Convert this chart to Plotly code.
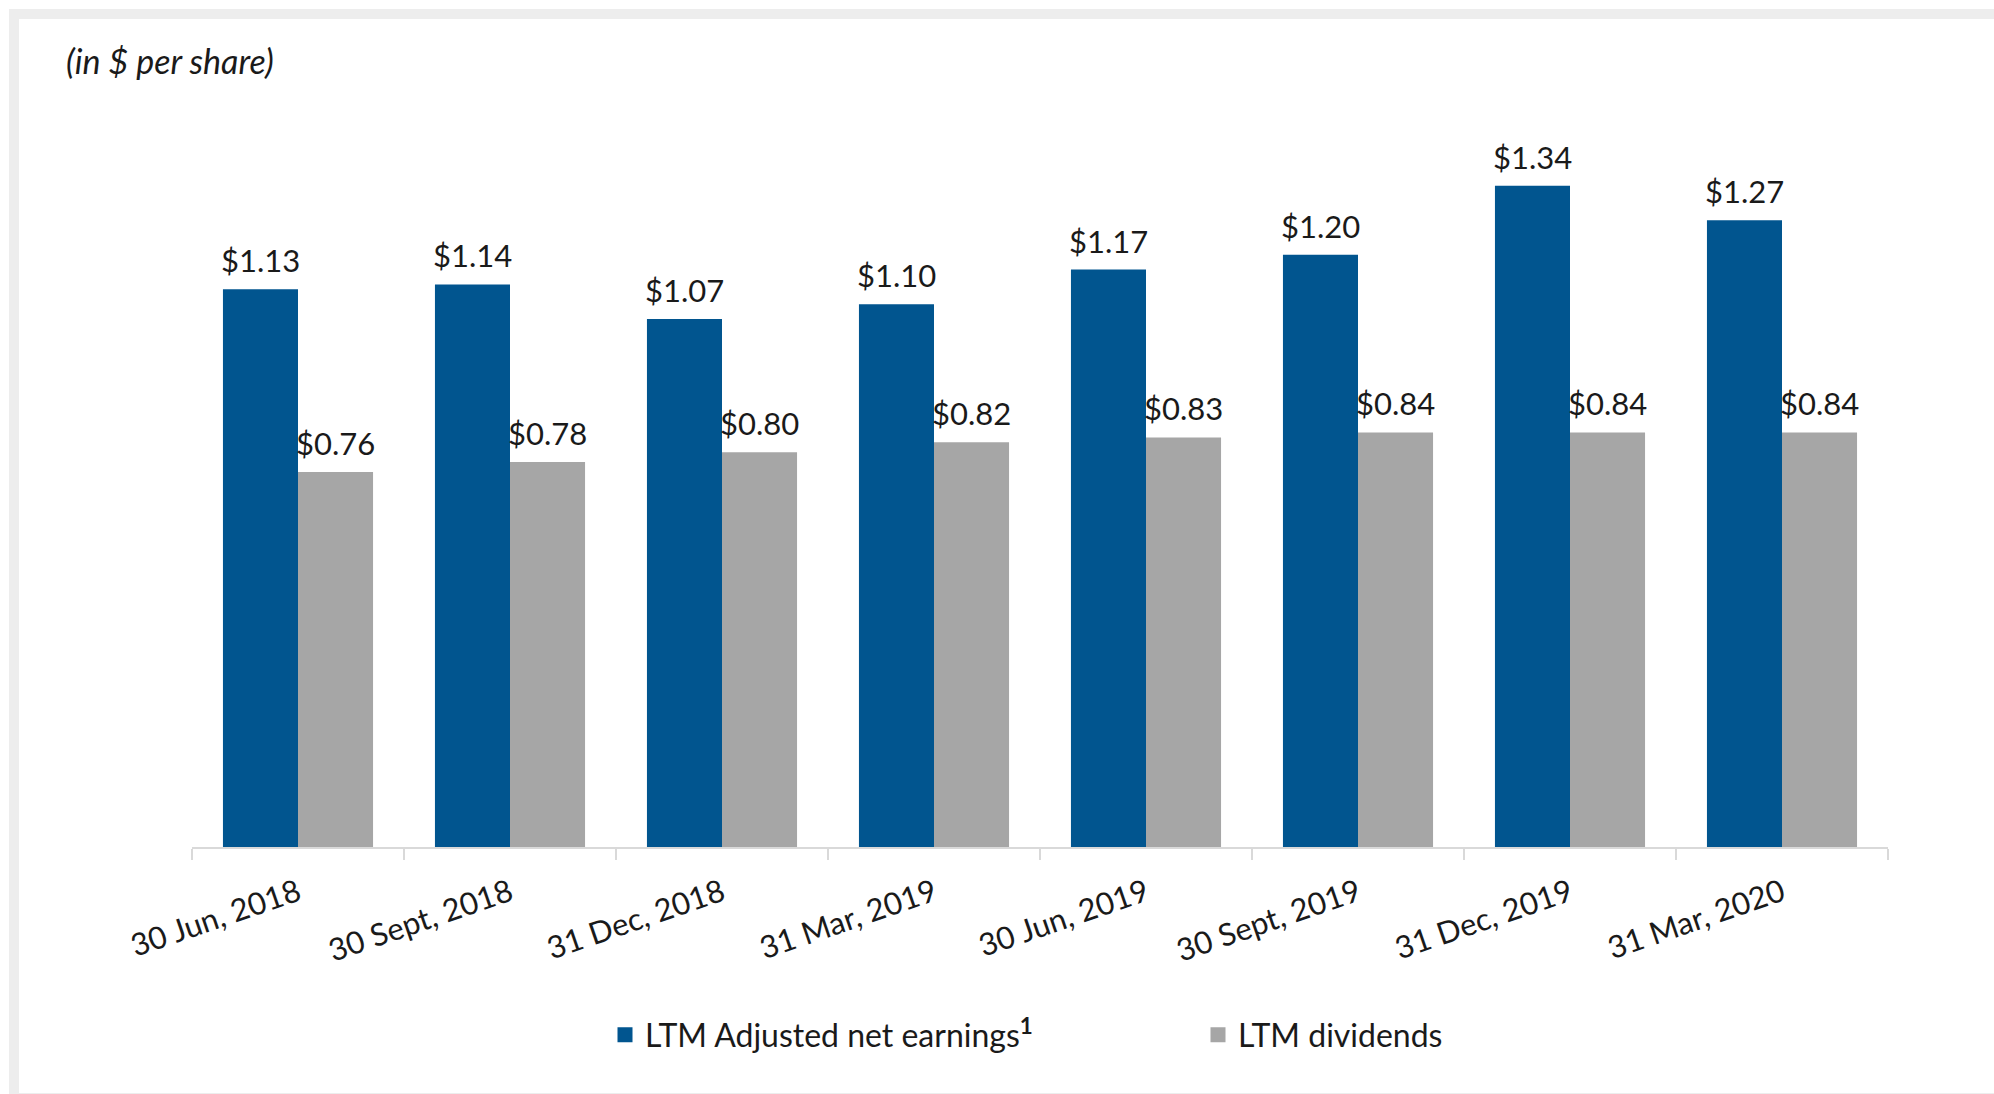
import plotly.graph_objects as go

categories = ["30 Jun, 2018", "30 Sept, 2018", "31 Dec, 2018", "31 Mar, 2019",
              "30 Jun, 2019", "30 Sept, 2019", "31 Dec, 2019", "31 Mar, 2020"]
earnings = [1.13, 1.14, 1.07, 1.10, 1.17, 1.20, 1.34, 1.27]
dividends = [0.76, 0.78, 0.80, 0.82, 0.83, 0.84, 0.84, 0.84]

W, H = 1994, 1094
ML, MR, MT, MB = 192, 106, 100, 247
PW, PH = W - ML - MR, H - MT - MB

def px(x):
    return (x - ML) / PW

def py(y):
    return (H - MB - y) / PH

FONT = "Lato"
BLUE = "#01558F"
GREY = "#A6A6A6"
TXT = "#1a1a1a"
BAR_HALF = 37.5  # half of one bar's pixel width within the group

fig = go.Figure()
fig.add_trace(go.Bar(
    x=categories, y=earnings, name="LTM Adjusted net earnings<b><sup>1</sup></b>",
    marker=dict(color=BLUE, line=dict(width=0)), showlegend=False,
))
fig.add_trace(go.Bar(
    x=categories, y=dividends, name="LTM dividends",
    marker=dict(color=GREY, line=dict(width=0)), showlegend=False,
))
# legend entries with larger square swatches
for name, col in (("LTM Adjusted net earnings<b><sup>1</sup></b>", BLUE), ("LTM dividends", GREY)):
    fig.add_trace(go.Scatter(x=[None], y=[None], mode="markers", name=name,
                             marker=dict(symbol="square", size=15, color=col, line=dict(width=0)),
                             hoverinfo="skip"))

annotations = []
for series, shift in ((earnings, -BAR_HALF), (dividends, BAR_HALF)):
    for c, v in zip(categories, series):
        annotations.append(dict(
            x=c, y=v, xref="x", yref="y", text=f"${v:.2f}", showarrow=False,
            xshift=shift, yshift=8, yanchor="bottom", xanchor="center",
            font=dict(family=FONT, size=31, color=TXT)))

annotations.append(dict(text="<i>(in $ per share)</i>", xref="paper", yref="paper",
                        x=px(64), y=py(60), xanchor="left", yanchor="middle",
                        showarrow=False, font=dict(family=FONT, size=34, color=TXT)))

fig.update_layout(
    width=W, height=H,
    margin=dict(l=ML, r=MR, t=MT, b=MB, autoexpand=False),
    paper_bgcolor="white", plot_bgcolor="white",
    barmode="group", bargap=0.292, bargroupgap=0,
    font=dict(family=FONT, size=28, color=TXT),
    showlegend=True,
    legend=dict(orientation="h", x=px(605), y=py(1035), xanchor="left", yanchor="middle",
                font=dict(family=FONT, size=32, color=TXT), itemwidth=30,
                entrywidth=548, entrywidthmode="pixels", bgcolor="rgba(0,0,0,0)"),
    xaxis=dict(showline=True, linecolor="#D9D9D9", linewidth=2,
               ticks="outside", ticklen=11, tickwidth=2, tickcolor="#D9D9D9",
               tickson="boundaries", tickangle=-19, ticklabelstandoff=14,
               tickfont=dict(family=FONT, size=31, color=TXT),
               showgrid=False, zeroline=False),
    yaxis=dict(range=[0, PH / 493.5], visible=False, showgrid=False, zeroline=False),
    annotations=annotations,
    shapes=[dict(type="rect", xref="paper", yref="paper",
                 x0=px(14), x1=px(2010), y0=py(14), y1=py(1098),
                 line=dict(color="#EDEDED", width=10), fillcolor="rgba(0,0,0,0)", layer="below")],
)

fig.write_html("out.html")
